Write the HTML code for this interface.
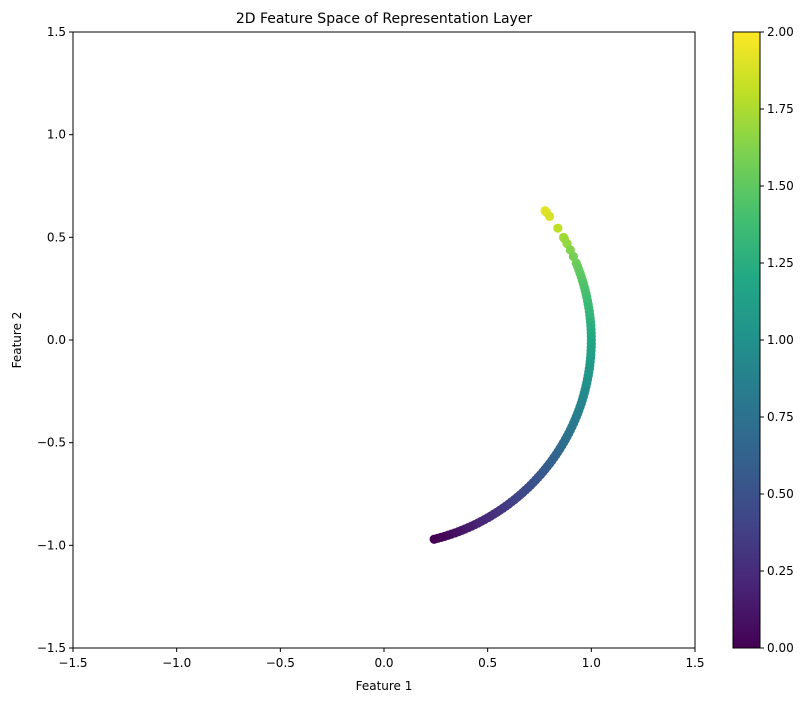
<!DOCTYPE html>
<html><head><meta charset="utf-8"><style>
body{margin:0;background:#fff;}
text{font-family:"DejaVu Sans","Liberation Sans",sans-serif;fill:#000;}
</style></head><body>
<svg id="chart" width="812" height="701" xmlns="http://www.w3.org/2000/svg">
<defs><linearGradient id="vir" x1="0" y1="1" x2="0" y2="0">
<stop offset="0" stop-color="#440154"/><stop offset="0.1" stop-color="#482475"/><stop offset="0.2" stop-color="#414487"/><stop offset="0.3" stop-color="#355f8d"/><stop offset="0.4" stop-color="#2a788e"/><stop offset="0.5" stop-color="#21918c"/><stop offset="0.6" stop-color="#22a884"/><stop offset="0.7" stop-color="#44bf70"/><stop offset="0.8" stop-color="#7ad151"/><stop offset="0.9" stop-color="#bddf26"/><stop offset="1" stop-color="#fde725"/>
</linearGradient></defs>
<text x="384" y="23" text-anchor="middle" font-size="14">2D Feature Space of Representation Layer</text>
<g id="plot"></g>
<rect x="73" y="32" width="622" height="616" fill="none" stroke="#000" stroke-width="1"/>
<text x="384" y="690" text-anchor="middle" font-size="12">Feature 1</text>
<text x="21" y="340" text-anchor="middle" font-size="12" transform="rotate(-90 21 340)">Feature 2</text>
<rect x="733" y="32" width="27" height="616" fill="url(#vir)" stroke="#000" stroke-width="1"/>
<g id="cbticks"></g>
</svg>
<script>
const angles=[39,38.5,37,33,30,29.5,28,26,24,22,21,20,19,18,17,16,15,14,13,12,11,10,9,8,7,6,5,4,3,2,1,0,-1,-2,-3,-4,-5,-6,-7,-8,-9,-10,-11,-12,-13,-14,-15,-16,-17,-18,-19,-20,-21,-22,-23,-24,-25,-26,-27,-28,-29,-30,-31,-32,-33,-34,-35,-36,-37,-38,-39,-40,-41,-42,-43,-44,-45,-46,-47,-48,-49,-50,-51,-52,-53,-54,-55,-56,-57,-58,-59,-60,-61,-62,-63,-64,-65,-66,-67,-68,-69,-70,-71,-72,-73,-74,-75,-76];
const values=[1.92,1.91,1.88,1.80,1.72,1.71,1.68,1.62,1.58,1.55,1.53,1.52,1.50,1.49,1.47,1.45,1.44,1.42,1.41,1.39,1.37,1.36,1.34,1.33,1.31,1.30,1.28,1.26,1.25,1.23,1.22,1.20,1.19,1.17,1.15,1.14,1.12,1.11,1.09,1.07,1.06,1.04,1.03,1.01,1.00,0.98,0.96,0.95,0.93,0.92,0.90,0.88,0.87,0.85,0.84,0.82,0.81,0.79,0.77,0.76,0.74,0.73,0.71,0.70,0.68,0.66,0.65,0.63,0.62,0.60,0.58,0.57,0.55,0.54,0.52,0.51,0.49,0.47,0.46,0.44,0.43,0.41,0.40,0.38,0.36,0.35,0.33,0.32,0.30,0.28,0.27,0.25,0.24,0.22,0.21,0.19,0.17,0.16,0.14,0.13,0.11,0.09,0.08,0.06,0.05,0.03,0.02,0.00];
const xTicks=[-1.5,-1.0,-0.5,0.0,0.5,1.0,1.5];
const yTicks=[-1.5,-1.0,-0.5,0.0,0.5,1.0,1.5];
const cTicks=[0,0.25,0.5,0.75,1.0,1.25,1.5,1.75,2.0];
const NS="http://www.w3.org/2000/svg";
const X=v=>73+(v+1.5)/3*622, Y=v=>648-(v+1.5)/3*616, C=v=>648-v/2*616;
const vs=[[0,[68,1,84]],[.1,[72,36,117]],[.2,[65,68,135]],[.3,[53,95,141]],[.4,[42,120,142]],[.5,[33,145,140]],[.6,[34,168,132]],[.7,[68,191,112]],[.8,[122,209,81]],[.9,[189,223,38]],[1,[253,231,37]]];
function vir(t){t=Math.max(0,Math.min(1,t));for(let i=1;i<vs.length;i++){if(t<=vs[i][0]){const a=vs[i-1],b=vs[i],f=(t-a[0])/(b[0]-a[0]);return 'rgb('+a[1].map((c,k)=>Math.round(c+(b[1][k]-c)*f)).join(',')+')';}}}
const svg=document.getElementById('chart'),plot=document.getElementById('plot'),cb=document.getElementById('cbticks');
function mk(tag,attrs,par){const e=document.createElementNS(NS,tag);for(const k in attrs)e.setAttribute(k,attrs[k]);par.appendChild(e);return e;}
angles.forEach((a,i)=>{const r=a*Math.PI/180;
const c=mk('circle',{cx:X(Math.cos(r)),cy:Y(Math.sin(r)),r:4.6,fill:vir(values[i]/2)},plot);

});
xTicks.forEach(v=>{const x=X(v);mk('line',{x1:x,x2:x,y1:648,y2:652,stroke:'#000'},svg);
const t=mk('text',{x:x,y:667,'text-anchor':'middle','font-size':'12'},svg);t.textContent=v.toFixed(1).replace('-','\u2212');

});
yTicks.forEach(v=>{const y=Y(v);mk('line',{x1:69,x2:73,y1:y,y2:y,stroke:'#000'},svg);
const t=mk('text',{x:66,y:y+4,'text-anchor':'end','font-size':'12'},svg);t.textContent=v.toFixed(1).replace('-','\u2212');

});
cTicks.forEach(v=>{const y=C(v);mk('line',{x1:760,x2:764,y1:y,y2:y,stroke:'#000'},cb);
const t=mk('text',{x:767,y:y+4,'font-size':'12'},cb);t.textContent=v.toFixed(2);

});
</script>
</body></html>
